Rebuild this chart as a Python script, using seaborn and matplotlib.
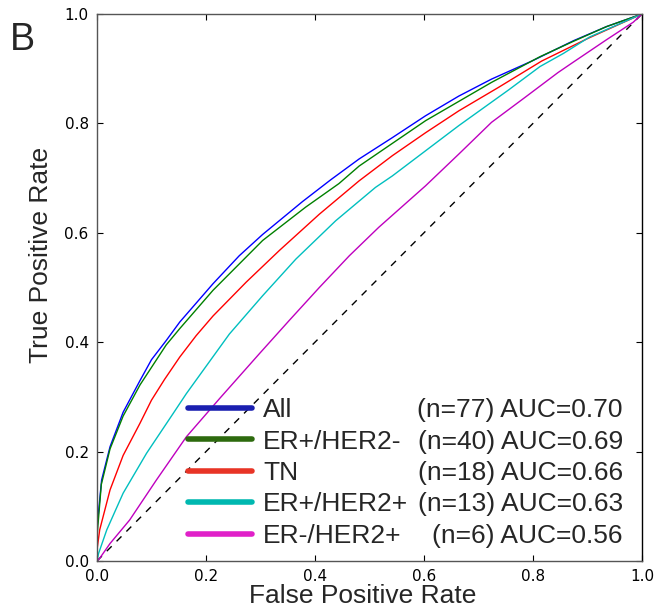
import matplotlib
matplotlib.use("Agg")
import matplotlib.pyplot as plt
import pandas as pd
import seaborn as sns
from matplotlib.lines import Line2D

# ROC curves
groups = ["All", "ER+/HER2-", "TN", "ER+/HER2+", "ER-/HER2+"]
sizes = [77, 40, 18, 13, 6]
aucs = [0.70, 0.69, 0.66, 0.63, 0.56]

all_fpr = [0.0, 0.0, 0.0085, 0.024, 0.048, 0.079, 0.100, 0.127, 0.152, 0.213, 0.261, 0.304,
           0.377, 0.429, 0.481, 0.542, 0.603, 0.664, 0.724, 0.798, 0.874, 0.935, 1.0]
all_tpr = [0.0, 0.06, 0.148, 0.209, 0.272, 0.330, 0.368, 0.403, 0.437, 0.507, 0.558, 0.597,
           0.657, 0.697, 0.735, 0.774, 0.814, 0.850, 0.881, 0.914, 0.951, 0.977, 1.0]

erp_hn_fpr = [0.0, 0.0, 0.008, 0.024, 0.048, 0.079, 0.127, 0.152, 0.213, 0.304, 0.383,
              0.444, 0.481, 0.603, 0.724, 0.813, 0.874, 0.935, 1.0]
erp_hn_tpr = [0.0, 0.044, 0.140, 0.205, 0.265, 0.322, 0.395, 0.425, 0.495, 0.586, 0.647,
              0.690, 0.722, 0.805, 0.875, 0.922, 0.950, 0.977, 1.0]

tn_fpr = [0.0, 0.0, 0.005, 0.024, 0.048, 0.079, 0.100, 0.124, 0.152, 0.182, 0.213, 0.274,
          0.335, 0.408, 0.481, 0.542, 0.603, 0.664, 0.737, 0.816, 0.900, 1.0]
tn_tpr = [0.0, 0.02, 0.057, 0.130, 0.193, 0.252, 0.294, 0.332, 0.373, 0.412, 0.448, 0.510,
          0.568, 0.634, 0.695, 0.741, 0.783, 0.823, 0.866, 0.914, 0.955, 1.0]

erp_hp_fpr = [0.0, 0.003, 0.018, 0.048, 0.091, 0.140, 0.164, 0.243, 0.304, 0.365, 0.438,
              0.511, 0.542, 0.603, 0.664, 0.755, 0.813, 0.856, 0.904, 1.0]
erp_hp_tpr = [0.0, 0.014, 0.057, 0.124, 0.197, 0.270, 0.306, 0.415, 0.485, 0.552, 0.622,
              0.683, 0.704, 0.750, 0.796, 0.861, 0.904, 0.928, 0.958, 1.0]

ern_hp_fpr = [0.0, 0.005, 0.024, 0.060, 0.109, 0.164, 0.225, 0.298, 0.353, 0.408, 0.463,
              0.517, 0.603, 0.664, 0.724, 0.786, 0.846, 0.874, 0.935, 0.984, 1.0]
ern_hp_tpr = [0.0, 0.005, 0.032, 0.075, 0.148, 0.227, 0.297, 0.379, 0.440, 0.500, 0.558,
              0.610, 0.686, 0.744, 0.802, 0.848, 0.893, 0.912, 0.953, 0.985, 1.0]

curves = [(all_fpr, all_tpr), (erp_hn_fpr, erp_hn_tpr), (tn_fpr, tn_tpr),
          (erp_hp_fpr, erp_hp_tpr), (ern_hp_fpr, ern_hp_tpr)]

line_colors = ["#0000ff", "#008000", "#ff0000", "#00bfbf", "#bf00bf"]
legend_colors = ["#1a1fb0", "#2d6a0e", "#e83426", "#00b8b0", "#e020c8"]

sns.set_style("ticks")
plt.rcParams["font.family"] = ["DejaVu Sans"]
label_font = ["Liberation Sans", "DejaVu Sans"]

frames = []
for name, (fpr, tpr) in zip(groups, curves):
    frames.append(pd.DataFrame({"fpr": fpr, "tpr": tpr, "group": name}))
df = pd.concat(frames, ignore_index=True)

fig = plt.figure(figsize=(6.61, 6.09), dpi=100)
ax = fig.add_axes([0.1467, 0.0788, 0.8245, 0.8982])

ax.plot([0, 1], [0, 1], color="black", linestyle="--", linewidth=1.0, dashes=(5, 5))
sns.lineplot(data=df, x="fpr", y="tpr", hue="group", hue_order=groups,
             palette=dict(zip(groups, line_colors)), sort=False, estimator=None,
             linewidth=1.0, legend=False, ax=ax)

ax.set_xlim(0, 1)
ax.set_ylim(0, 1)
ax.set_xticks([0.0, 0.2, 0.4, 0.6, 0.8, 1.0])
ax.set_yticks([0.0, 0.2, 0.4, 0.6, 0.8, 1.0])
ax.tick_params(direction="in", length=4, width=0.8, top=True, right=True,
               labelsize=11, pad=6, colors="black")
for side in ["left", "top", "bottom"]:
    ax.spines[side].set_color("#555555")
ax.spines["right"].set_color("black")
for sp in ax.spines.values():
    sp.set_linewidth(1.0)

ax.set_xlabel("False Positive Rate", fontsize=19, family=label_font)
ax.set_ylabel("True Positive Rate", fontsize=19, family=label_font)
ax.xaxis.set_label_coords(0.488, -0.042)
ax.yaxis.set_label_coords(-0.080, 0.56)

handles = [Line2D([], [], color=c, linewidth=4) for c in legend_colors]
leg = ax.legend(handles, groups, loc="lower left", bbox_to_anchor=(0.143, 0.0),
                frameon=False, borderpad=0, handlelength=2.42, handletextpad=0.42,
                labelspacing=0.28, prop={"family": label_font, "size": 19})

fig.canvas.draw()
inv = ax.transAxes.inverted()
for t, n, a in zip(leg.get_texts(), sizes, aucs):
    bb = t.get_window_extent()
    _, yc = inv.transform(((bb.x0 + bb.x1) / 2, (bb.y0 + bb.y1) / 2))
    ax.text(0.965, yc, f"(n={n}) AUC={a:.2f}", transform=ax.transAxes,
            ha="right", va="center", fontsize=19, family=label_font)

fig.text(0.015, 1 - 50 / 609, "B", fontsize=27, family=label_font, va="baseline")

fig.savefig("out.png", dpi=100)
